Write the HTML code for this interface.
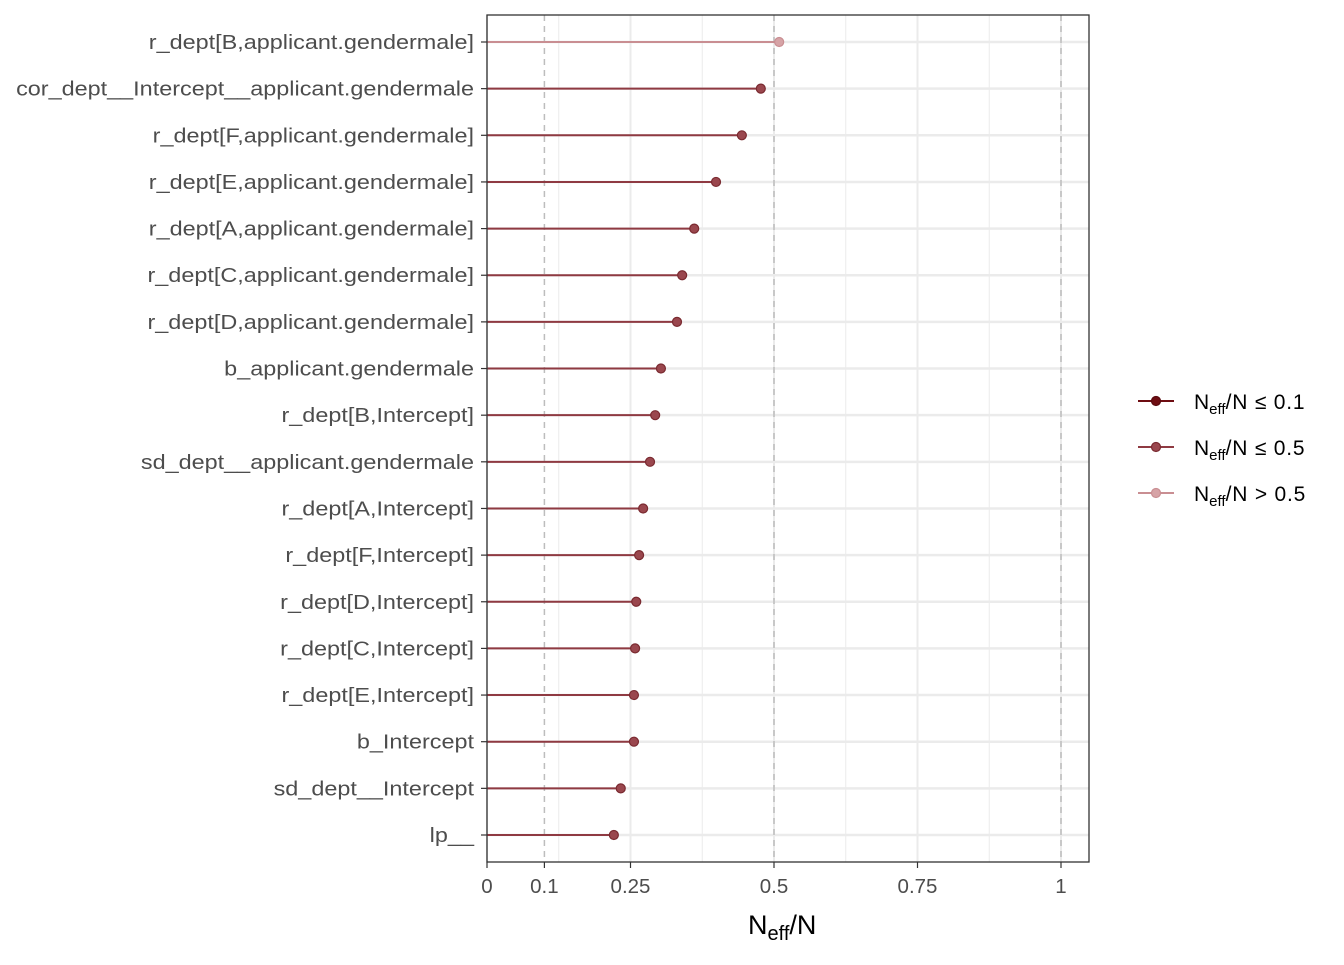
<!DOCTYPE html>
<html><head><meta charset="utf-8"><style>
body{margin:0;background:#fff;}
svg text{font-family:"Liberation Sans",Arial,sans-serif;}
</style></head><body>
<svg id="chart" width="1344" height="960" xmlns="http://www.w3.org/2000/svg"></svg>
<script>
const params = ["r_dept[B,applicant.gendermale]","cor_dept__Intercept__applicant.gendermale","r_dept[F,applicant.gendermale]","r_dept[E,applicant.gendermale]","r_dept[A,applicant.gendermale]","r_dept[C,applicant.gendermale]","r_dept[D,applicant.gendermale]","b_applicant.gendermale","r_dept[B,Intercept]","sd_dept__applicant.gendermale","r_dept[A,Intercept]","r_dept[F,Intercept]","r_dept[D,Intercept]","r_dept[C,Intercept]","r_dept[E,Intercept]","b_Intercept","sd_dept__Intercept","lp__"];
const ratios = [0.509,0.477,0.444,0.399,0.361,0.340,0.331,0.303,0.293,0.284,0.272,0.265,0.260,0.258,0.256,0.256,0.233,0.221];
const xTicks = [0,0.1,0.25,0.5,0.75,1];
const xTickLabels = ["0","0.1","0.25","0.5","0.75","1"];
const minorTicks = [0.125,0.375,0.625,0.875];
const dashedRefs = [0.1,0.5,1];

const svg = document.getElementById('chart');
const NS = "http://www.w3.org/2000/svg";
const L=487,R=1089,T=15,B=862;
const x = v => 487 + v*574;
const y = i => 42 + i*(835-42)/(params.length-1);
function mk(tag, attrs, parent){const e=document.createElementNS(NS,tag);for(const k in attrs)e.setAttribute(k,attrs[k]);(parent||svg).appendChild(e);return e;}

const grid = mk('g',{});


minorTicks.forEach(v=>mk('line',{x1:x(v),x2:x(v),y1:T,y2:B,stroke:'#ebebeb','stroke-width':1},grid));
[0,0.25,0.5,0.75,1].forEach(v=>mk('line',{x1:x(v),x2:x(v),y1:T,y2:B,stroke:'#ebebeb','stroke-width':2},grid));
params.forEach((p,i)=>mk('line',{x1:L,x2:R,y1:y(i),y2:y(i),stroke:'#ebebeb','stroke-width':2.5},grid));
dashedRefs.forEach(v=>{const l=mk('line',{x1:x(v),x2:x(v),y1:T,y2:B,stroke:'#bdbdbd','stroke-width':1.5,'stroke-dasharray':'6,5'});

});

function col(v){return v<=0.1?'#6e0d12':(v<=0.5?'#9a474e':'#d6a3a6');}
function colLine(v){return v<=0.1?'#6e0d12':(v<=0.5?'#8f3a42':'#c98e92');}
params.forEach((p,i)=>{
  const v=ratios[i];
  const ln=mk('line',{x1:x(0),x2:x(v),y1:y(i),y2:y(i),stroke:colLine(v),'stroke-width':2});
  
  
  const c=mk('circle',{cx:x(v),cy:y(i),r:4.5,fill:col(v),stroke:v>0.5?'#c98e92':'#7a2a30','stroke-width':1.2});
  
  
  const t=mk('text',{x:474,y:y(i)+7,'text-anchor':'end','font-size':19.5,fill:'#4d4d4d'});
  t.textContent=p;
  
  
  const w=t.getComputedTextLength();
  t.setAttribute('font-size',20.5);
  t.setAttribute('textLength',(w*1.2).toFixed(1));
  t.setAttribute('lengthAdjust','spacingAndGlyphs');
  mk('line',{x1:481,x2:487,y1:y(i),y2:y(i),stroke:'#333','stroke-width':1.2});
});
const frame=mk('rect',{x:L,y:T,width:R-L,height:B-T,fill:'none',stroke:'#333','stroke-width':1.3});


xTicks.forEach((v,i)=>{
  mk('line',{x1:x(v),x2:x(v),y1:B,y2:B+6,stroke:'#333','stroke-width':1.2});
  const t=mk('text',{x:x(v),y:893,'text-anchor':'middle','font-size':20.5,fill:'#4d4d4d'});
  t.textContent=xTickLabels[i];
  
  
});
const xt=mk('text',{x:748,y:934,'font-size':27,fill:'#000'});
xt.innerHTML='N<tspan font-size="20" dy="6">eff</tspan><tspan dy="-6">/N</tspan>';



const legTxt=[['≤ 0.1',0.05],['≤ 0.5',0.3],['> 0.5',0.8]];
legTxt.forEach((d,i)=>{
  const ly=401+i*46;
  const g=mk('g',{});
  
  
  mk('line',{x1:1138,x2:1174,y1:ly,y2:ly,stroke:colLine(d[1]),'stroke-width':2},g);
  mk('circle',{cx:1156,cy:ly,r:4.5,fill:col(d[1]),stroke:d[1]>0.5?'#c98e92':(d[1]<=0.1?'#5a0a0e':'#7a2a30'),'stroke-width':1.2},g);
  const t=mk('text',{x:1194,y:ly+8,'font-size':21,fill:'#000'},g);
  t.innerHTML='N<tspan font-size="15" dy="5">eff</tspan><tspan dy="-5" letter-spacing="0.8">/N '+d[0]+'</tspan>';
});
</script>
</body></html>
